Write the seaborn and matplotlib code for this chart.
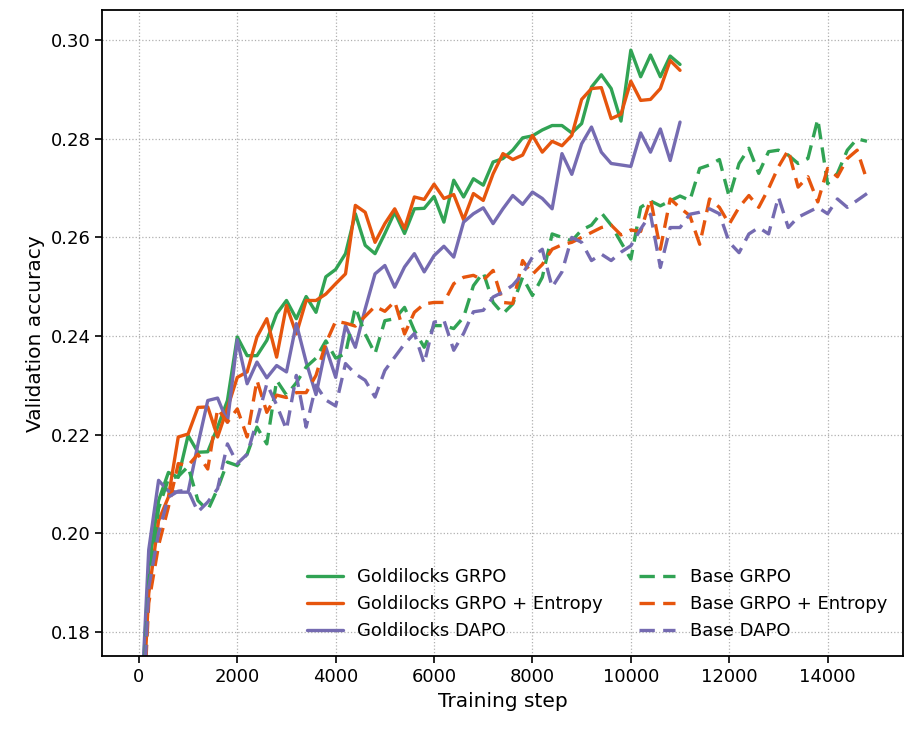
import numpy as np
import pandas as pd
import matplotlib
matplotlib.use("Agg")
import matplotlib.pyplot as plt
from matplotlib.lines import Line2D
import seaborn as sns

# ---------------- data ----------------
gold_steps = list(range(0, 11001, 200))
base_steps = list(range(0, 14801, 200))

gold_grpo = [0.155, 0.193, 0.2066, 0.2123, 0.2113, 0.2198, 0.2164, 0.2165, 0.2215, 0.2269,
             0.2398, 0.2360, 0.2360, 0.2391, 0.2445, 0.2472, 0.2435, 0.2480, 0.2448, 0.2520,
             0.2535, 0.2567, 0.2648, 0.2584, 0.2567, 0.2608, 0.2651, 0.2608, 0.2658, 0.2659,
             0.2683, 0.2631, 0.2716, 0.2682, 0.2719, 0.2706, 0.2753, 0.2760, 0.2777, 0.2802,
             0.2806, 0.2818, 0.2827, 0.2827, 0.2812, 0.2831, 0.2905, 0.2930, 0.2902, 0.2836,
             0.2980, 0.2926, 0.2970, 0.2926, 0.2968, 0.2951]

gold_grpo_ent = [0.150, 0.1877, 0.2025, 0.2073, 0.2195, 0.2201, 0.2255, 0.2256, 0.2195, 0.2254,
                 0.2316, 0.2327, 0.2398, 0.2435, 0.2357, 0.2462, 0.2404, 0.2472, 0.2472, 0.2485,
                 0.2506, 0.2526, 0.2665, 0.2651, 0.2590, 0.2628, 0.2658, 0.2618, 0.2682, 0.2677,
                 0.2708, 0.2679, 0.2687, 0.2636, 0.2689, 0.2675, 0.2729, 0.2770, 0.2758, 0.2767,
                 0.2807, 0.2773, 0.2795, 0.2786, 0.2807, 0.2880, 0.2902, 0.2904, 0.2841, 0.2850,
                 0.2917, 0.2878, 0.2880, 0.2902, 0.2959, 0.2939]

gold_dapo = [0.155, 0.1966, 0.2107, 0.2085, 0.2083, 0.2083, 0.2180, 0.2269, 0.2274, 0.2225,
             0.2392, 0.2303, 0.2347, 0.2315, 0.2340, 0.2327, 0.2425, 0.2347, 0.2281, 0.2377,
             0.2316, 0.2421, 0.2377, 0.2455, 0.2526, 0.2543, 0.2499, 0.2540, 0.2567, 0.2530,
             0.2563, 0.2582, 0.2560, 0.2631, 0.2648, 0.2660, 0.2628, 0.2658, 0.2685, 0.2667,
             0.2692, 0.2679, 0.2658, 0.2770, 0.2728, 0.2790, 0.2824, 0.2773, 0.2750, 0.2747,
             0.2744, 0.2812, 0.2773, 0.2820, 0.2756, 0.2834]

base_grpo = [0.150, 0.190, 0.2050, 0.2110, 0.2115, 0.2135, 0.2066, 0.2046, 0.2090, 0.2144,
             0.2137, 0.2160, 0.2215, 0.2181, 0.2310, 0.2280, 0.2305, 0.2337, 0.2355, 0.2390,
             0.2355, 0.2364, 0.2458, 0.2404, 0.2364, 0.2431, 0.2435, 0.2458, 0.2411, 0.2377,
             0.2421, 0.2421, 0.2415, 0.2438, 0.2502, 0.2529, 0.2468, 0.2445, 0.2465, 0.2519,
             0.2482, 0.2519, 0.2607, 0.2600, 0.2593, 0.2615, 0.2625, 0.2650, 0.2625, 0.2590,
             0.2556, 0.2661, 0.2674, 0.2664, 0.2674, 0.2684, 0.2675, 0.2740, 0.2747, 0.2758,
             0.2682, 0.2750, 0.2781, 0.2730, 0.2774, 0.2777, 0.2767, 0.2750, 0.2760, 0.2840,
             0.2709, 0.2730, 0.2777, 0.2800, 0.2795]

base_grpo_ent = [0.145, 0.1858, 0.1975, 0.2053, 0.2141, 0.2137, 0.2160, 0.2130, 0.2252, 0.2225,
                 0.2252, 0.2195, 0.2310, 0.2245, 0.2280, 0.2275, 0.2285, 0.2285, 0.2320, 0.2385,
                 0.2430, 0.2426, 0.2420, 0.2440, 0.2460, 0.2450, 0.2470, 0.2404, 0.2448, 0.2465,
                 0.2468, 0.2468, 0.2506, 0.2519, 0.2523, 0.2513, 0.2533, 0.2468, 0.2466, 0.2553,
                 0.2525, 0.2545, 0.2576, 0.2585, 0.2590, 0.2600, 0.2610, 0.2620, 0.2625, 0.2605,
                 0.2615, 0.2612, 0.2678, 0.2576, 0.2678, 0.2660, 0.2644, 0.2586, 0.2678, 0.2661,
                 0.2627, 0.2661, 0.2685, 0.2661, 0.2699, 0.2743, 0.2777, 0.2702, 0.2723, 0.2672,
                 0.2740, 0.2723, 0.2760, 0.2777, 0.2716]

base_dapo = [0.145, 0.189, 0.2000, 0.2073, 0.2085, 0.2087, 0.2043, 0.2063, 0.2090, 0.2181,
             0.2141, 0.2160, 0.2228, 0.2303, 0.2260, 0.2210, 0.2320, 0.2215, 0.2300, 0.2270,
             0.2258, 0.2344, 0.2323, 0.2310, 0.2276, 0.2330, 0.2357, 0.2384, 0.2405, 0.2344,
             0.2428, 0.2432, 0.2371, 0.2405, 0.2449, 0.2452, 0.2479, 0.2489, 0.2503, 0.2526,
             0.2560, 0.2576, 0.2499, 0.2530, 0.2600, 0.2590, 0.2553, 0.2566, 0.2553, 0.2570,
             0.2583, 0.2617, 0.2647, 0.2539, 0.2620, 0.2620, 0.2647, 0.2651, 0.2658, 0.2648,
             0.2590, 0.2569, 0.2607, 0.2620, 0.2607, 0.2682, 0.2620, 0.2641, 0.2651, 0.2661,
             0.2648, 0.2678, 0.2661, 0.2675, 0.2689]

labels = ["Goldilocks GRPO", "Goldilocks GRPO + Entropy", "Goldilocks DAPO",
          "Base GRPO", "Base GRPO + Entropy", "Base DAPO"]
series = [gold_grpo, gold_grpo_ent, gold_dapo, base_grpo, base_grpo_ent, base_dapo]
steps = [gold_steps] * 3 + [base_steps] * 3
colors = ["#31a354", "#e6550d", "#756bb1"] * 2
dashed = [False] * 3 + [True] * 3

# ---------------- plot ----------------
sns.set_style("ticks")
plt.rcParams["font.family"] = ["DejaVu Sans"]
plt.rcParams["text.color"] = "black"
plt.rcParams["axes.labelcolor"] = "black"
plt.rcParams["xtick.color"] = "black"
plt.rcParams["ytick.color"] = "black"
plt.rcParams["lines.scale_dashes"] = True

LW = 2.4
DASH = (0, (4.6, 2.5))

fig = plt.figure(figsize=(9.07, 7.30), dpi=100)
ax = fig.add_axes([0.113, 0.101, 0.883, 0.885])

handles = []
for lab, s, y, c, d in zip(labels, steps, series, colors, dashed):
    df = pd.DataFrame({"step": s, "acc": y})
    ls = DASH if d else "-"
    sns.lineplot(data=df, x="step", y="acc", ax=ax, color=c,
                 linewidth=LW, estimator=None)
    ax.lines[-1].set_linestyle(ls)
    handles.append(Line2D([0, 1], [0, 0], color=c, linewidth=LW, linestyle=ls, label=lab))

ax.set_ylim(0.175, 0.3061)
ax.set_xticks(range(0, 14001, 2000))
yt = [0.18, 0.20, 0.22, 0.24, 0.26, 0.28, 0.30]
ax.set_yticks(yt)
ax.set_yticklabels([f"{v:.2f}" for v in yt])
ax.grid(True, linestyle=":", color="#b0b0b0", linewidth=0.9)
ax.set_xlabel("Training step", fontsize=14.5, color="black")
ax.set_ylabel("Validation accuracy", fontsize=14.5, color="black")
ax.tick_params(axis="both", labelsize=13, length=5, width=1.2,
               color="black", labelcolor="black")
for sp in ax.spines.values():
    sp.set_visible(True)
    sp.set_color("black")
    sp.set_linewidth(1.3)

leg = ax.legend(handles=handles, ncol=2, loc="lower right", frameon=False,
                fontsize=13, handlelength=2.0)
for t in leg.get_texts():
    t.set_color("black")

fig.savefig("out.png", dpi=100)
